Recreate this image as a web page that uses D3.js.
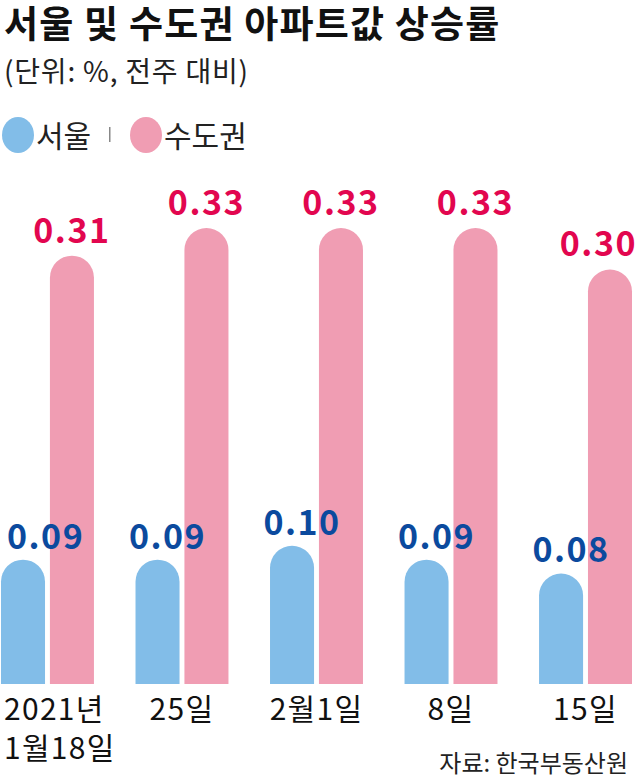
<!DOCTYPE html>
<html><head><meta charset="utf-8">
<script src="https://cdn.jsdelivr.net/npm/d3@7"></script>
<style>
html,body{margin:0;padding:0;background:#fff;}
svg{display:block;font-family:"Noto Sans CJK KR","Noto Sans",sans-serif;}
</style></head>
<body>
<svg id="c" width="640" height="780"></svg>
<script>
const categories = ["2021년\n1월18일", "25일", "2월1일", "8일", "15일"];
const seriesNames = ["서울", "수도권"];
const seoul = [0.09, 0.09, 0.10, 0.09, 0.08];
const capital = [0.31, 0.33, 0.33, 0.33, 0.30];
const valueLabelsSeoul = ["0.09", "0.09", "0.10", "0.09", "0.08"];
const valueLabelsCapital = ["0.31", "0.33", "0.33", "0.33", "0.30"];

const W = 640, H = 780;
const colors = {bar: ["#82bde8", "#f09db3"], label: ["#0b4a9e", "#e2064f"]};
const svg = d3.select("#c");

// Title
svg.append("text").attr("x", 4).attr("y", 38)
  .attr("font-size", 37).attr("font-weight", 700).attr("fill", "#111")
  .attr("letter-spacing", 1.2)
  .text("서울 및 수도권 아파트값 상승률");
svg.append("text").attr("x", 4).attr("y", 82)
  .attr("font-size", 28).attr("fill", "#222")
  .attr("letter-spacing", 0.8)
  .text("(단위: %, 전주 대비)");

// Legend
const lg = svg.append("g");
lg.append("ellipse").attr("cx", 18).attr("cy", 135).attr("rx", 16).attr("ry", 18).attr("fill", colors.bar[0]);
lg.append("text").attr("x", 36).attr("y", 147).attr("font-size", 30).attr("fill", "#222").text(seriesNames[0]);
lg.append("rect").attr("x", 109).attr("y", 127).attr("width", 1.5).attr("height", 15).attr("fill", "#888");
lg.append("ellipse").attr("cx", 146).attr("cy", 135).attr("rx", 16).attr("ry", 18).attr("fill", colors.bar[1]);
lg.append("text").attr("x", 164).attr("y", 147).attr("font-size", 30).attr("fill", "#222").text(seriesNames[1]);

// Scales
const x0 = d3.scaleBand().domain(categories).range([1, 632]).paddingInner(0.309).paddingOuter(0);
const x1 = d3.scaleBand().domain(seriesNames).range([0, x0.bandwidth()]).paddingInner(0.1).paddingOuter(0);
const y = d3.scaleLinear().domain([0, 0.33]).range([684, 228]);

function pill(x, w, yTop, yBase) {
  const r = w / 2;
  const p = d3.path();
  p.moveTo(x, yBase);
  p.lineTo(x, yTop + r);
  p.arc(x + r, yTop + r, r, Math.PI, 0);
  p.lineTo(x + w, yBase);
  p.closePath();
  return p.toString();
}

const data = categories.map((c, i) => ({c, vals: [
  {s: seriesNames[0], v: seoul[i], lab: valueLabelsSeoul[i], k: 0},
  {s: seriesNames[1], v: capital[i], lab: valueLabelsCapital[i], k: 1}
]}));

const groups = svg.append("g").selectAll("g").data(data).join("g")
  .attr("transform", d => `translate(${x0(d.c)},0)`);

groups.selectAll("path").data(d => d.vals).join("path")
  .attr("d", d => pill(x1(d.s), x1.bandwidth(), y(d.v), y(0)))
  .attr("fill", d => colors.bar[d.k]);

// Value labels (drawn after bars so they sit on top)
const labG = svg.append("g");
data.forEach(d => {
  d.vals.forEach(v => {
    const cx = x0(d.c) + x1(v.s) + x1.bandwidth() / 2 + (v.k === 0 ? 10 : 0);
    const t = labG.append("text")
      .attr("y", y(v.v) - (v.k === 0 ? 11 : 13))
      .attr("font-size", 34).attr("font-weight", 700)
      .attr("letter-spacing", 1.5)
      .attr("fill", colors.label[v.k])
      .text(v.lab);
    const w = t.node().getComputedTextLength();
    let left = cx - w / 2;
    left = Math.max(7, Math.min(left, W - 3 - w));
    t.attr("x", left);
  });
});

// Category labels
const axG = svg.append("g");
data.forEach(d => {
  const lines = d.c.split("\n");
  const cx = x0(d.c) + x0.bandwidth() / 2;
  lines.forEach((ln, j) => {
    axG.append("text").attr("font-size", 30).attr("fill", "#111").attr("letter-spacing", 1.3)
      .attr("class", "cat" + j).attr("y", 720 + j * 39).text(ln);
  });
});
axG.selectAll("text").each(function(){});
data.forEach((d, i) => {
  const nodes = axG.selectAll("text").nodes().filter((n, k) => true);
});
// place category labels centred, clamped at left edge
(function placeCats(){
  const nodes = axG.selectAll("text").nodes();
  let idx = 0;
  data.forEach(d => {
    const n = d.c.split("\n").length;
    const group = nodes.slice(idx, idx + n);
    idx += n;
    const cx = x0(d.c) + x0.bandwidth() / 2;
    const maxW = d3.max(group, g => g.getComputedTextLength());
    const left = Math.max(4, cx - maxW / 2);
    group.forEach(g => d3.select(g).attr("x", left));
  });
})();

// Source
svg.append("text").attr("x", 628).attr("y", 772).attr("text-anchor", "end")
  .attr("font-size", 24).attr("fill", "#222").text("자료: 한국부동산원");
</script>
</body></html>
